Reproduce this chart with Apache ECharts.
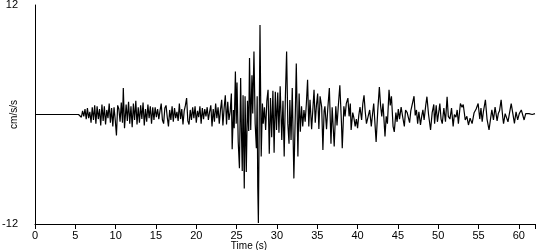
<!DOCTYPE html>
<html>
<head>
<meta charset="utf-8">
<script src="https://cdn.jsdelivr.net/npm/echarts@6/dist/echarts.min.js"></script>
<style>
html,body{margin:0;padding:0;background:#fff;}
#chart{width:550px;height:250px;}
</style>
</head>
<body>
<div id="chart"></div>
<script>
// Time axis ticks and limits
const xTicks = [0, 5, 10, 15, 20, 25, 30, 35, 40, 45, 50, 55, 60];
const yTicks = [-12, 12];

// Acceleration record [time (s), acceleration (cm/s/s)]
const preEvent = [[0, 0], [3.7, 0], [3.75, 0.05], [3.8, 0], [5.4, 0]];

const pWave = [
  [5.5, 0.1], [5.6, 0.2], [5.75, -0.3], [5.9, 0.4], [6.05, -0.2], [6.2, 0.6], [6.35, -0.5], [6.5, 0.7],
  [6.65, -0.4], [6.8, 0.3], [6.95, -0.9], [7.1, 0.8], [7.25, -0.6], [7.4, 1.0], [7.55, -1.0], [7.7, 0.9],
  [7.85, -0.5], [8.0, 0.6], [8.15, -1.2], [8.3, 1.1], [8.45, -0.7], [8.6, 0.9], [8.75, -1.1], [8.9, 0.5],
  [9.05, -0.4], [9.2, 1.2], [9.35, -0.9], [9.5, 0.7], [9.65, -1.3], [9.8, 0.8], [9.95, -0.6], [10.1, -2.3],
  [10.25, 1.0], [10.4, 0.6], [10.55, -0.8], [10.7, 1.3], [10.85, -0.9], [10.95, 2.9], [11.1, -1.5], [11.3, 1.1],
  [11.45, -0.7], [11.6, 1.4], [11.75, -1.0], [11.9, 0.9], [12.05, -1.4], [12.2, 1.2], [12.35, -0.6], [12.5, 1.5],
  [12.65, -1.1], [12.8, 0.8], [12.95, -0.9], [13.1, 1.0], [13.25, -0.5], [13.4, 1.3], [13.55, -1.2], [13.7, 0.6],
  [13.85, -0.8], [14.0, 1.1], [14.15, -0.4], [14.3, 0.9], [14.45, -1.0], [14.6, 0.8], [14.75, -0.6], [14.9, 0.8],
  [15.05, -0.3], [15.2, 0.6], [15.35, -0.5], [15.5, 0.4], [15.65, 1.2], [15.8, -0.6], [15.95, -1.0], [16.1, 0.7],
  [16.25, 1.0], [16.4, -0.3], [16.55, -1.3], [16.7, 0.5], [16.85, -0.6], [17.0, 0.9], [17.15, -0.8], [17.3, 0.7],
  [17.45, -0.4], [17.6, 0.3], [17.75, -0.7], [17.9, 1.2], [18.05, -0.5], [18.2, 0.6], [18.35, -1.1], [18.5, 0.4],
  [18.65, 1.0], [18.8, 1.8], [18.95, -0.7], [19.1, -1.1], [19.25, 0.5], [19.4, -0.6], [19.55, 0.8], [19.7, -0.4],
  [19.85, 0.9], [20.0, -0.9], [20.15, 0.4], [20.3, -0.3], [20.45, 0.9], [20.6, -1.0], [20.75, 0.7], [20.9, -0.5],
  [21.05, 0.6], [21.2, -0.2], [21.35, 0.8], [21.5, -0.6], [21.65, 0.3], [21.8, 1.0], [21.95, -1.3], [22.1, 0.6],
  [22.25, -0.8], [22.4, 1.2], [22.55, -0.4], [22.7, 0.8], [22.85, -1.0], [23.0, 0.5], [23.15, 1.6], [23.3, -1.2],
  [23.45, 0.7], [23.6, 2.1], [23.75, -1.1], [23.9, 1.4], [24.05, -0.6]
];

const strongMotion = [
  [24.2, 0.3], [24.35, 2.3], [24.45, -3.8], [24.6, 0.5], [24.7, -1.5], [24.85, 4.7], [24.95, -1.0], [25.05, 3.5],
  [25.2, -3.0], [25.35, -5.9], [25.5, 4.0], [25.6, -2.0], [25.7, -6.2], [25.8, 2.1], [25.95, -8.1], [26.05, 2.0],
  [26.2, -6.3], [26.35, 1.5], [26.5, -1.8], [26.6, 6.2], [26.75, -1.7], [26.9, 4.3], [27.0, 0.1], [27.15, 6.9],
  [27.3, -1.0], [27.45, -3.7], [27.55, 2.0], [27.62, -7.9], [27.7, -11.9], [27.9, 9.8], [28.05, -4.6], [28.2, 1.2],
  [28.3, -1.0], [28.45, 0.8], [28.6, -1.7], [28.75, 1.5], [28.9, 2.7], [29.05, -4.3], [29.2, 1.8], [29.35, -2.5],
  [29.5, 2.6], [29.65, -4.2], [29.8, 2.5], [29.95, -1.7], [30.1, 2.4], [30.25, -2.0], [30.4, 3.1], [30.6, -2.8],
  [30.75, 1.5], [30.9, -4.6], [31.05, 2.0], [31.2, 6.9], [31.35, -1.0], [31.5, -3.2], [31.6, 1.6], [31.75, -2.8],
  [31.9, 2.9], [32.1, -7.0], [32.3, 1.0], [32.4, 5.6], [32.6, -4.6], [32.75, 2.3], [32.9, -1.9], [33.05, 0.9],
  [33.2, -1.3], [33.35, 0.5], [33.5, -0.8], [33.65, 1.2], [33.8, 3.8], [33.95, -1.3], [34.1, 1.6], [34.3, -1.6],
  [34.45, 0.5], [34.6, 2.7], [34.75, -0.9], [34.9, 1.0], [35.05, 2.3], [35.2, -1.6], [35.35, 2.0], [35.55, 0.8],
  [35.7, -3.9], [35.85, 0.4], [35.95, 0.9], [36.15, -1.6], [36.3, 0.6], [36.5, 2.9], [36.7, -3.2], [36.85, 0.8],
  [37.0, 1.0], [37.1, -3.5], [37.3, 0.9], [37.45, -1.2], [37.6, 0.8], [37.8, 3.2], [38.0, -0.9], [38.1, -3.7]
];

const coda = [
  [38.3, 0.9], [38.45, -0.2], [38.6, 1.2], [38.8, 1.8], [38.95, -0.2], [39.1, 1.2], [39.2, -1.7], [39.4, 0.2],
  [39.55, -0.4], [39.7, -1.3], [39.85, -0.5], [40.0, -1.5], [40.15, -0.1], [40.3, 0.8], [40.5, -0.6], [40.65, 1.2],
  [40.8, 2.1], [40.95, 0.3], [41.1, -1.0], [41.3, -1.2], [41.5, 0.5], [41.7, -1.3], [41.85, 0.0], [42.0, 1.2],
  [42.3, -3.0], [42.5, 0.4], [42.7, 3.0], [42.85, 1.0], [43.0, -0.2], [43.15, 1.2], [43.4, -2.4], [43.55, -0.2],
  [43.7, -1.0], [43.9, 2.7], [44.05, 1.0], [44.2, 2.0], [44.4, -1.3], [44.55, -1.9], [44.75, 0.2], [44.9, -0.8],
  [45.05, 0.6], [45.2, -0.5], [45.4, 0.8], [45.6, -0.3], [45.8, -1.3], [45.95, 0.5], [46.15, 0.2], [46.3, 0.3],
  [46.45, -0.9], [46.6, 0.4], [46.8, 0.6], [47.0, 2.0], [47.15, -0.1], [47.3, 0.5], [47.45, -1.0], [47.6, 0.3],
  [47.8, -1.15], [47.95, -0.2], [48.1, 0.5], [48.25, -0.6], [48.45, 1.0], [48.6, 1.95], [48.8, 0.0], [49.05, -1.7],
  [49.25, 0.2], [49.45, 1.1], [49.55, -1.0], [49.75, 1.0], [49.9, -0.8], [50.1, 0.5], [50.2, 1.2], [50.35, -0.5],
  [50.5, -1.0], [50.7, 0.7], [50.9, -0.8], [51.1, 1.95], [51.25, -0.2], [51.45, -0.5], [51.65, 0.7], [51.85, -1.3],
  [52.0, 0.0], [52.2, -0.3], [52.35, 0.5], [52.5, -1.0], [52.75, 1.2], [52.95, 0.8], [53.1, 1.1], [53.35, -0.6],
  [53.55, -0.2], [53.75, -1.15], [53.95, -0.4], [54.2, -1.0], [54.45, 0.2], [54.7, 0.6], [54.95, 1.2], [55.15, -0.5],
  [55.3, 0.7], [55.45, -0.8], [55.6, 0.3], [55.85, 1.6], [56.05, -0.5], [56.3, -1.7], [56.5, -0.4], [56.65, 0.5],
  [56.85, -0.6], [57.05, 0.8], [57.3, -0.7], [57.45, 0.1], [57.6, 0.4], [57.8, 1.6], [58.0, -0.3], [58.1, -1.0],
  [58.3, 0.1], [58.5, 0.1], [58.65, -0.8], [58.85, 0.2], [59.05, 1.2], [59.2, 1.0], [59.45, -0.97], [59.65, 0.3],
  [59.85, -0.6], [60.05, 0.1], [60.3, 0.5], [60.5, 0.4], [60.65, -0.6], [60.85, 0.1], [61.05, 0.3], [61.25, 0.1],
  [61.45, 0.2], [61.65, 0.0], [61.85, 0.2], [62.0, 0.1]
];

const record = preEvent.concat(pWave, strongMotion, coda);

const chart = echarts.init(document.getElementById('chart'), null, {renderer: 'canvas'});
const font = "'Liberation Sans', Arial, sans-serif";
chart.setOption({
  animation: false,
  backgroundColor: '#ffffff',
  grid: {left: 35, right: 15, top: 5, bottom: 26, containLabel: false, outerBoundsMode: 'none'},
  xAxis: {
    type: 'value',
    min: 0,
    max: 62,
    interval: 5,
    name: 'Time (s)',
    nameLocation: 'middle',
    nameGap: 17,
    nameMoveOverlap: false,
    nameTextStyle: {color: '#000', fontFamily: font, fontSize: 10, lineHeight: 10, padding: [0, 72, 0, 0]},
    axisLine: {show: true, onZero: false, lineStyle: {color: '#000', width: 1}},
    axisTick: {show: true, length: 5, lineStyle: {color: '#000'}},
    axisLabel: {
      color: '#000', fontFamily: font, fontSize: 11, margin: 6,
      formatter: v => xTicks.indexOf(v) >= 0 ? String(v) : ''
    },
    splitLine: {show: false}
  },
  yAxis: {
    type: 'value',
    min: -12,
    max: 12,
    interval: 12,
    name: 'cm/s/s',
    nameLocation: 'middle',
    nameGap: 16,
    nameMoveOverlap: false,
    nameRotate: 90,
    nameTextStyle: {color: '#000', fontFamily: font, fontSize: 10},
    axisLine: {show: true, onZero: false, lineStyle: {color: '#000', width: 1}},
    axisTick: {show: false},
    axisLabel: {
      color: '#000', fontFamily: font, fontSize: 11, margin: 17,
      formatter: v => yTicks.indexOf(v) >= 0 ? String(v) : ''
    },
    splitLine: {show: false}
  },
  series: [{
    type: 'line',
    data: record,
    showSymbol: false,
    symbol: 'none',
    lineStyle: {color: '#000', width: 1.2},
    silent: true
  }]
});
</script>
</body>
</html>
